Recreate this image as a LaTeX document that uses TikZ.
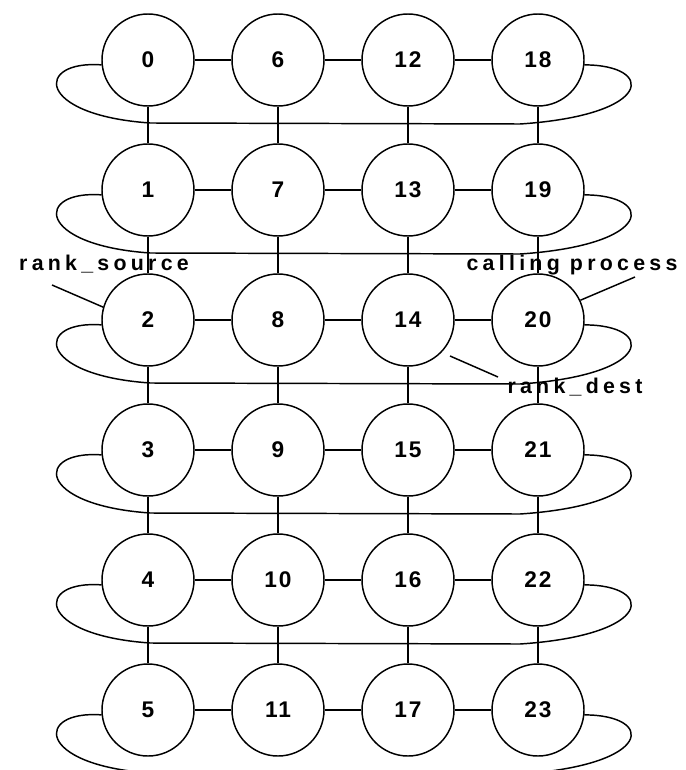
\documentclass[tikz,border=0pt]{standalone}
\usepackage{fontspec}
\setmainfont{Liberation Sans}
\newfontfamily\lblfont[LetterSpace=20]{Liberation Sans Bold}
\newfontfamily\numfont[LetterSpace=8]{Liberation Sans Bold}
\begin{document}
\begin{tikzpicture}[x=0.75pt,y=-0.75pt,line width=1.1pt,
  proc/.style={circle,draw,fill=white,minimum size=69pt,inner sep=0pt,
    font=\numfont\fontsize{17}{17}\selectfont},
  lbl/.style={font=\lblfont\fontsize{16}{16}\selectfont,anchor=base,inner sep=0pt},
  link/.style={draw,line width=1.1pt}]
\useasboundingbox (0,0) rectangle (685,770);
\foreach \c in {0,...,3}{
  \foreach \r in {0,...,5}{
    \pgfmathtruncatemacro\n{6*\c+\r}
    \node[proc] (p\n) at ({148+130*\c},{60+130*\r}) {\n};
  }
}
% horizontal links
\foreach \c in {0,1,2}{
  \foreach \r in {0,...,5}{
    \pgfmathtruncatemacro\a{6*\c+\r}
    \pgfmathtruncatemacro\b{6*\c+\r+6}
    \draw[link] (p\a) -- (p\b);
  }
}
% vertical links
\foreach \c in {0,...,3}{
  \foreach \r in {0,...,4}{
    \pgfmathtruncatemacro\a{6*\c+\r}
    \pgfmathtruncatemacro\b{6*\c+\r+1}
    \draw[link] (p\a) -- (p\b);
  }
}
% wrap-around rings
\foreach \r in {0,...,5}{
  \pgfmathtruncatemacro\m{18+\r}
  \pgfmathsetmacro\Y{60+130*\r}
  \draw[link] (p\r.186) .. controls (35,\Y) and (35,\Y+55) .. (150,\Y+63)
     -- (520,\Y+64) .. controls (655,\Y+55) and (655,\Y+5) .. (p\m.-6);
}
% labels
\node[lbl] (src) at (104,270) {rank\_source};
\coordinate (srcend) at (52,285);
\draw[link] (srcend) -- (p2.164);
\node[lbl] (call) at (572,270) {calling process};
\coordinate (callend) at (635,277);
\draw[link] (callend) -- (p20.25);
\node[lbl] (dest) at (575,393) {rank\_dest};
\coordinate (d1) at (498,377);
\coordinate (d2) at (450,356);
\draw[link] (d1) -- (d2);
\end{tikzpicture}
\end{document}
